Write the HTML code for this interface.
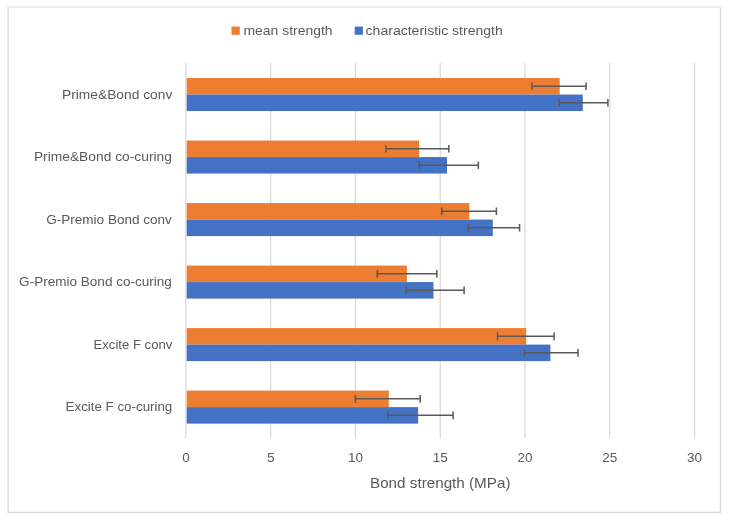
<!DOCTYPE html>
<html><head><meta charset="utf-8"><style>
html,body{margin:0;padding:0;background:#fff;}
svg{display:block;font-family:"Liberation Sans",sans-serif;}
svg{will-change:transform}
</style></head><body>
<svg width="730" height="521" viewBox="0 0 730 521">
<path d="M8.1 7.1V512.4H720.5V7.1" fill="none" stroke="#D9D9D9" stroke-width="1.4"/>
<path d="M7.4 7.1H721.2" fill="none" stroke="#EAEAEA" stroke-width="1.6"/>
<line x1="185.90" y1="63" x2="185.90" y2="438.4" stroke="#D9D9D9" stroke-width="1.25"/>
<line x1="270.67" y1="63" x2="270.67" y2="438.4" stroke="#D9D9D9" stroke-width="1.25"/>
<line x1="355.44" y1="63" x2="355.44" y2="438.4" stroke="#D9D9D9" stroke-width="1.25"/>
<line x1="440.21" y1="63" x2="440.21" y2="438.4" stroke="#D9D9D9" stroke-width="1.25"/>
<line x1="524.98" y1="63" x2="524.98" y2="438.4" stroke="#D9D9D9" stroke-width="1.25"/>
<line x1="609.75" y1="63" x2="609.75" y2="438.4" stroke="#D9D9D9" stroke-width="1.25"/>
<line x1="694.52" y1="63" x2="694.52" y2="438.4" stroke="#D9D9D9" stroke-width="1.25"/>
<rect x="186.7" y="78.05" width="373.00" height="16.5" fill="#ED7D31"/>
<rect x="186.7" y="94.55" width="396.10" height="16.5" fill="#4472C4"/>
<path d="M531.90 86.30H586.10M531.90 82.40V90.10M586.10 82.40V90.10" stroke="#595959" stroke-width="1.5" fill="none"/>
<path d="M559.20 102.80H607.90M559.20 98.90V106.60M607.90 98.90V106.60" stroke="#595959" stroke-width="1.5" fill="none"/>
<text x="62.00" y="98.65" textLength="110.30" lengthAdjust="spacingAndGlyphs" font-size="13.6" fill="#595959">Prime&amp;Bond conv</text>
<rect x="186.7" y="140.56" width="232.40" height="16.5" fill="#ED7D31"/>
<rect x="186.7" y="157.06" width="260.30" height="16.5" fill="#4472C4"/>
<path d="M386.00 148.81H448.80M386.00 144.91V152.62M448.80 144.91V152.62" stroke="#595959" stroke-width="1.5" fill="none"/>
<path d="M419.10 165.31H478.30M419.10 161.41V169.12M478.30 161.41V169.12" stroke="#595959" stroke-width="1.5" fill="none"/>
<text x="33.90" y="161.16" textLength="138.00" lengthAdjust="spacingAndGlyphs" font-size="13.6" fill="#595959">Prime&amp;Bond co-curing</text>
<rect x="186.7" y="203.07" width="282.60" height="16.5" fill="#ED7D31"/>
<rect x="186.7" y="219.57" width="306.10" height="16.5" fill="#4472C4"/>
<path d="M441.70 211.32H496.40M441.70 207.42V215.12M496.40 207.42V215.12" stroke="#595959" stroke-width="1.5" fill="none"/>
<path d="M468.20 227.82H519.60M468.20 223.92V231.62M519.60 223.92V231.62" stroke="#595959" stroke-width="1.5" fill="none"/>
<text x="46.20" y="223.67" textLength="125.70" lengthAdjust="spacingAndGlyphs" font-size="13.6" fill="#595959">G-Premio Bond conv</text>
<rect x="186.7" y="265.58" width="220.20" height="16.5" fill="#ED7D31"/>
<rect x="186.7" y="282.08" width="246.80" height="16.5" fill="#4472C4"/>
<path d="M377.30 273.83H436.90M377.30 269.94V277.63M436.90 269.94V277.63" stroke="#595959" stroke-width="1.5" fill="none"/>
<path d="M406.00 290.33H464.10M406.00 286.44V294.13M464.10 286.44V294.13" stroke="#595959" stroke-width="1.5" fill="none"/>
<text x="19.10" y="286.19" textLength="152.80" lengthAdjust="spacingAndGlyphs" font-size="13.6" fill="#595959">G-Premio Bond co-curing</text>
<rect x="186.7" y="328.10" width="339.50" height="16.5" fill="#ED7D31"/>
<rect x="186.7" y="344.60" width="363.70" height="16.5" fill="#4472C4"/>
<path d="M497.60 336.35H554.10M497.60 332.45V340.15M554.10 332.45V340.15" stroke="#595959" stroke-width="1.5" fill="none"/>
<path d="M524.50 352.85H578.00M524.50 348.95V356.65M578.00 348.95V356.65" stroke="#595959" stroke-width="1.5" fill="none"/>
<text x="93.50" y="348.70" textLength="78.80" lengthAdjust="spacingAndGlyphs" font-size="13.6" fill="#595959">Excite F conv</text>
<rect x="186.7" y="390.61" width="202.10" height="16.5" fill="#ED7D31"/>
<rect x="186.7" y="407.11" width="231.40" height="16.5" fill="#4472C4"/>
<path d="M355.30 398.86H420.20M355.30 394.96V402.66M420.20 394.96V402.66" stroke="#595959" stroke-width="1.5" fill="none"/>
<path d="M387.70 415.36H453.10M387.70 411.46V419.16M453.10 411.46V419.16" stroke="#595959" stroke-width="1.5" fill="none"/>
<text x="65.60" y="411.21" textLength="106.70" lengthAdjust="spacingAndGlyphs" font-size="13.6" fill="#595959">Excite F co-curing</text>
<text x="185.90" y="462.4" text-anchor="middle" font-size="13.5" fill="#595959">0</text>
<text x="270.67" y="462.4" text-anchor="middle" font-size="13.5" fill="#595959">5</text>
<text x="355.44" y="462.4" text-anchor="middle" font-size="13.5" fill="#595959">10</text>
<text x="440.21" y="462.4" text-anchor="middle" font-size="13.5" fill="#595959">15</text>
<text x="524.98" y="462.4" text-anchor="middle" font-size="13.5" fill="#595959">20</text>
<text x="609.75" y="462.4" text-anchor="middle" font-size="13.5" fill="#595959">25</text>
<text x="694.52" y="462.4" text-anchor="middle" font-size="13.5" fill="#595959">30</text>
<text x="370" y="487.6" textLength="140.5" lengthAdjust="spacingAndGlyphs" font-size="15" fill="#595959">Bond strength (MPa)</text>
<rect x="231.5" y="26.6" width="8.3" height="8.2" fill="#ED7D31"/>
<text x="243.5" y="34.8" textLength="89" lengthAdjust="spacingAndGlyphs" font-size="13.6" fill="#595959">mean strength</text>
<rect x="354.7" y="26.6" width="8.2" height="8.2" fill="#4472C4"/>
<text x="365.6" y="34.8" textLength="137.2" lengthAdjust="spacingAndGlyphs" font-size="13.6" fill="#595959">characteristic strength</text>
</svg>
</body></html>
